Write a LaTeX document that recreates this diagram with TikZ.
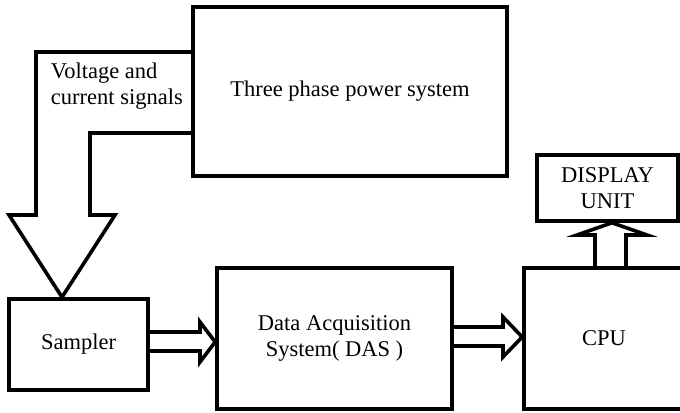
\documentclass[tikz,border=0pt]{standalone}
\usepackage{fontspec}
\setmainfont{Liberation Serif}
\usepackage{tikz}
\tikzset{>=latex}
\def\u{0.025cm}
\def\LW{0.9mm}
\tikzstyle{block}=[draw,line width=\LW,align=center]
\tikzstyle{hollow}=[draw,line width=\LW,line join=miter]

\begin{document}
\begin{tikzpicture}[x=\u,y=-\u,font=\fontsize{16}{18.5}\selectfont]
  \useasboundingbox (0,0) rectangle (680,413);
  
  % BLOCKS
  \node[block,minimum width=314*\u,minimum height=169*\u] (power) at (350,91.5) {Three phase power system};
  \node[block,minimum width=139*\u,minimum height=91*\u]  (samp)  at (78.5,344.5) {Sampler};
  \node[block,minimum width=235*\u,minimum height=141*\u] (das)   at (334.5,338.5) {Data Acquisition\\System( DAS )};
  \node[block,minimum width=160*\u,minimum height=141*\u] (cpu)   at (604,338.5) {CPU};
  \node[block,minimum width=141*\u,minimum height=66*\u]  (disp)  at (607.5,188) {DISPLAY\\UNIT};
  \node[align=left,anchor=west] (sig) at (46,86.5) {Voltage and\\current signals};
  
  % SIGNALS
  \draw[hollow]
    (power.west |- 0,52) -- (36,52) -- (36,215) -- (9,215)
    -- (62,0 |- samp.north) % TIP
    -- (115,215) -- (90,215) -- (90,133) -- (power.west |- 0,133);
  
  % SAMPLER -> DAS
  \draw[hollow]
    (samp.east |- 0,332) -- (200,332) -- (200,322)
    -- (das.west |- 0,342) % TIP
    -- (200,362) -- (200,351) -- (samp.east |- 0,351);
  
  % DAS -> CPU
  \draw[hollow]
    (das.east |- 0,327) -- (503,327) -- (503,317)
    -- (cpu.west |- 0,337) % TIP
    -- (503,357) -- (503,346) -- (das.east |- 0,346);
  
  % CPU -> DISPLAY
  \draw[hollow]
    (595,0 |- cpu.north) -- (595,235) -- (577,235)
    -- (612,0 |- disp.south) % TIP
    -- (647,235) -- (626,235) -- (626,0 |- cpu.north);
  
\end{tikzpicture}
\end{document}
